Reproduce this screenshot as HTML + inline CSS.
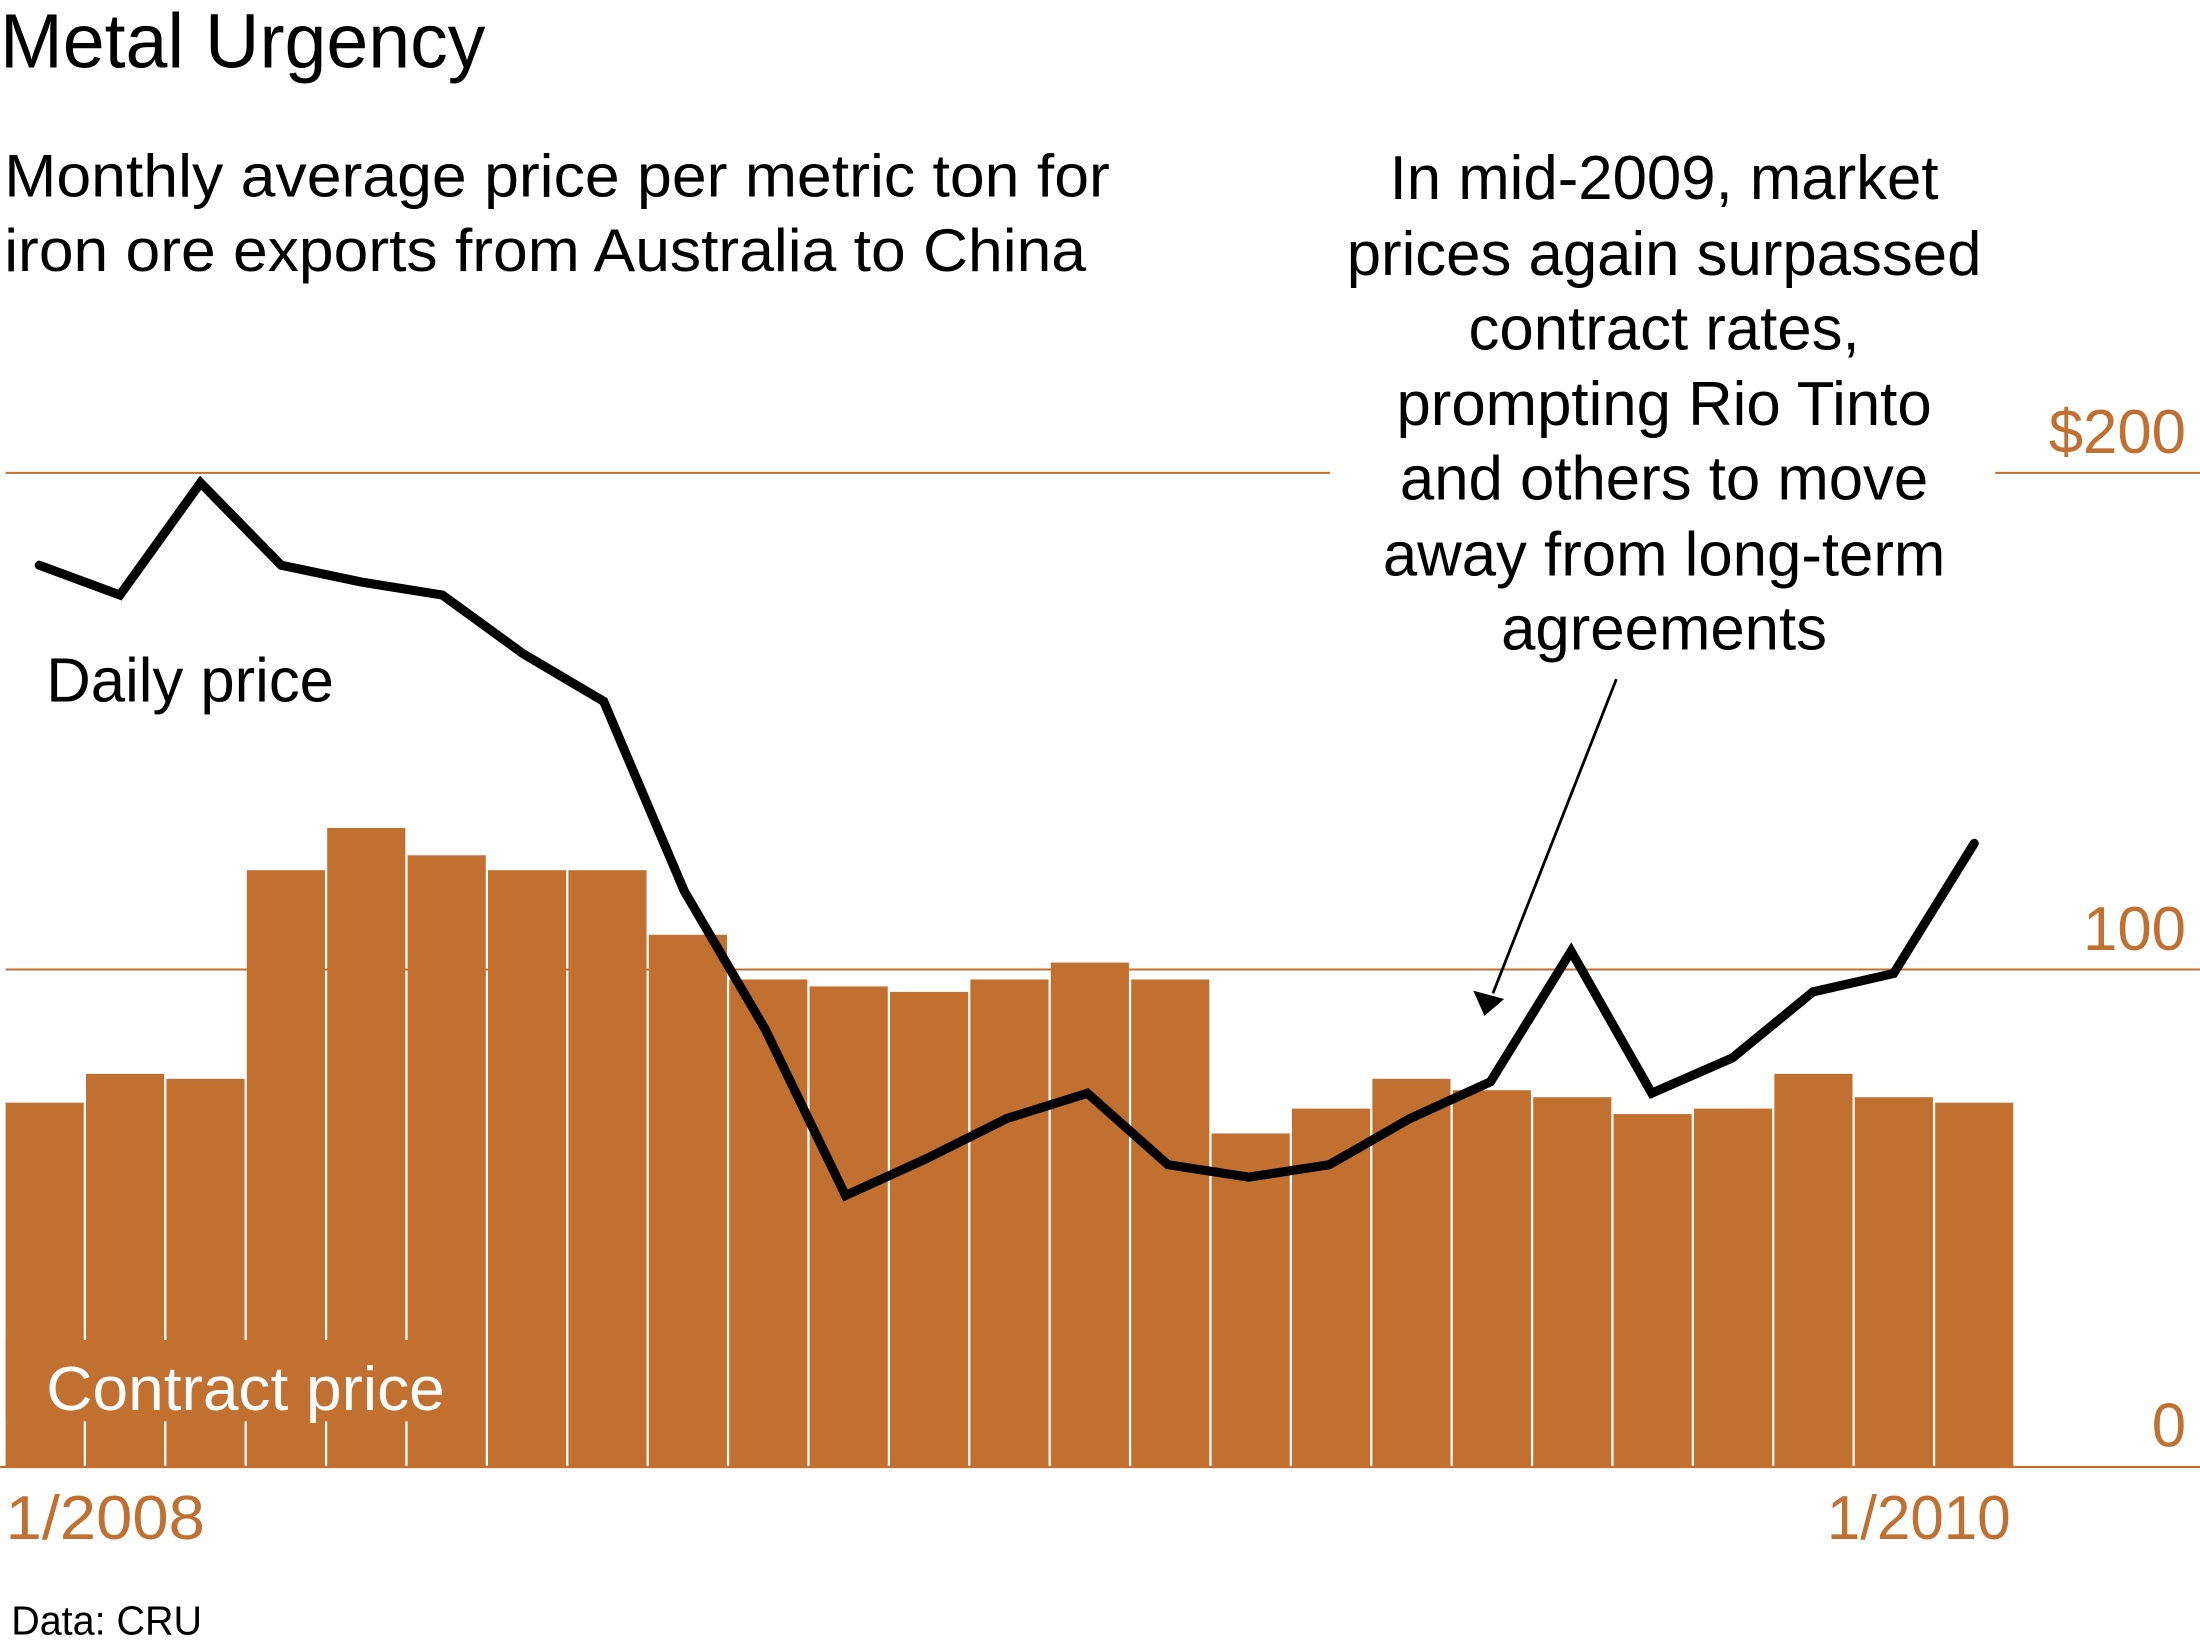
<!DOCTYPE html>
<html><head><meta charset="utf-8"><style>
html,body{margin:0;padding:0;background:#fff;}
svg{display:block;font-family:"Liberation Sans",sans-serif;}
</style></head><body>
<svg id="chart" width="2200" height="1650" viewBox="0 0 2200 1650">
<g id="root" transform="scale(1.4031)">
  <text x="0" y="48" font-size="55" textLength="346" lengthAdjust="spacingAndGlyphs">Metal Urgency</text>
  <text x="3" y="140" font-size="43" textLength="788" lengthAdjust="spacingAndGlyphs">Monthly average price per metric ton for</text>
  <text x="3" y="193" font-size="43" textLength="771" lengthAdjust="spacingAndGlyphs">iron ore exports from Australia to China</text>
  <g id="grid"></g>
  <g id="bars"></g>
  <g id="line"></g>
  <g id="labels"></g>
  <g font-size="44" text-anchor="middle">
    <text x="1186" y="142">In mid-2009, market</text>
    <text x="1186" y="196">prices again surpassed</text>
    <text x="1186" y="249">contract rates,</text>
    <text x="1186" y="303">prompting Rio Tinto</text>
    <text x="1186" y="356">and others to move</text>
    <text x="1186" y="410">away from long-term</text>
    <text x="1186" y="463">agreements</text>
  </g>
  <line x1="1152" y1="484" x2="1064" y2="708" stroke="#000" stroke-width="2"/>
  <polygon points="1058,724 1050,706 1072,712" fill="#000"/>
  <text x="33" y="500" font-size="44" textLength="205" lengthAdjust="spacingAndGlyphs">Daily price</text>
  <text x="8" y="1165" font-size="29" textLength="136" lengthAdjust="spacingAndGlyphs">Data: CRU</text>
</g>
</svg>
<script>
const contractPrices=[73.2,79,78,120,128.5,123,120,120,107,98,96.6,95.5,98,101.4,98,67,72,78,75.7,74.3,70.9,72,79,74.3,73.2];
const dailyPrices=[181.4,175.4,198,181.4,178,175.4,163.6,154,115.8,88.1,54.5,61.9,70,75.1,60.7,58.2,60.7,70,77.4,103.7,75.1,82.2,95.5,99.2,125.4];
const yTicks=[0,100,200];
const yTickLabels=["0","100","$200"];
const xTickLabels=["1/2008","1/2010"];
const xTickIndex=[0,24];

const NS="http://www.w3.org/2000/svg";
const OR="#C1702F";
const y0=1045, ppu=(1045-337)/200;
const x0=4, bw=57.3;
function yS(v){return y0-v*ppu;}
function xB(i){return x0+i*bw;}
function xL(i){return 28+i*57.46;}
function mk(tag,attrs,parent){const e=document.createElementNS(NS,tag);for(const k in attrs)e.setAttribute(k,attrs[k]);parent.appendChild(e);return e;}

const grid=document.getElementById('grid');
yTicks.forEach((t,i)=>{
  if(t===0)return;
  const g=mk('line',{x1:4,x2:1568,y1:yS(t),y2:yS(t),stroke:OR,'stroke-width':1.4},grid);
  
  
});
const bars=document.getElementById('bars');
contractPrices.forEach((v,i)=>{
  const r=mk('rect',{x:xB(i),y:yS(v),width:bw-1.6,height:v*ppu,fill:OR},bars);
  
  
});
const bg=mk('rect',{x:4,y:955,width:320,height:58,fill:OR},bars);


const cl=mk('text',{x:33,y:1005,'font-size':44,fill:'#fff',textLength:284,lengthAdjust:'spacingAndGlyphs'},bars);
cl.textContent='Contract price';


const ax=mk('line',{x1:0,x2:1568,y1:y0+0.5,y2:y0+0.5,stroke:OR,'stroke-width':1.6},bars);


const gap=mk('rect',{x:948,y:yS(200)-3,width:474,height:6,fill:'#fff'},grid);



const lineG=document.getElementById('line');
const pts=dailyPrices.map((v,i)=>xL(i)+','+yS(v)).join(' ');
const pl=mk('polyline',{points:pts,fill:'none',stroke:'#000','stroke-width':6.5,'stroke-linejoin':'miter','stroke-linecap':'round'},lineG);



const lab=document.getElementById('labels');
yTicks.forEach((t,i)=>{
  const tx=mk('text',{x:1558,y:yS(t)-14,'font-size':44,fill:OR,'text-anchor':'end'},lab);
  tx.textContent=yTickLabels[i];
  
  
});
xTickLabels.forEach((s,i)=>{
  const idx=xTickIndex[i];
  const end=i===xTickLabels.length-1;
  const tx=mk('text',{x:end?1302:4,y:1097,'font-size':44,fill:OR,textLength:end?131:142,lengthAdjust:'spacingAndGlyphs'},lab);
  tx.textContent=s;
  
  
});
</script>
</body></html>
